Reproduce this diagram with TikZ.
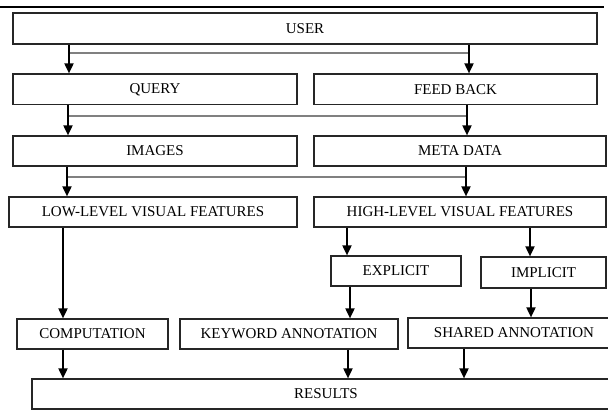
\documentclass[tikz,border=0pt]{standalone}
\usepackage{fontspec}
\setmainfont{Liberation Serif}
\usetikzlibrary{arrows.meta}
\begin{document}
\begin{tikzpicture}[x=1pt,y=-1pt,
  box/.style={draw=black!85,line width=1.2pt,inner sep=0pt,anchor=center,font=\fontsize{15}{16}\selectfont},
  arr/.style={line width=1.8pt,-{Triangle[width=9pt,length=10pt]}},
  hline/.style={draw=black!50,line width=1.6pt}]
\useasboundingbox (0,0) rectangle (608,410);
\clip (0,0) rectangle (608,410);
% top rule
\draw[line width=2pt] (0,6.5) -- (604,6.5);
% boxes
\node[box,minimum width=584pt,minimum height=31pt] (user) at (305,28.5) {USER};
\node[box,minimum width=284pt,minimum height=30.5pt] (query) at (155,89.25) {QUERY};
\node[box,minimum width=283pt,minimum height=30.5pt] (feed) at (455.5,89.25) {FEED BACK};
\node[box,minimum width=284pt,minimum height=30pt] (images) at (155,151) {IMAGES};
\node[box,minimum width=292pt,minimum height=30pt] (meta) at (460,151) {META DATA};
\node[box,minimum width=288pt,minimum height=30pt] (low) at (153,212) {LOW-LEVEL VISUAL FEATURES};
\node[box,minimum width=292pt,minimum height=30pt] (high) at (460,212) {HIGH-LEVEL VISUAL FEATURES};
\node[box,minimum width=130pt,minimum height=30pt] (explicit) at (396,271) {EXPLICIT};
\node[box,minimum width=125pt,minimum height=31pt] (implicit) at (543.5,272.5) {IMPLICIT};
\node[box,minimum width=151pt,minimum height=30pt] (comp) at (92.5,334) {COMPUTATION};
\node[box,minimum width=218pt,minimum height=30pt] (keyword) at (289,334) {KEYWORD ANNOTATION};
\node[box,minimum width=212pt,minimum height=30pt] (shared) at (514,333) {SHARED ANNOTATION};
\node[box,minimum width=588pt,minimum height=30pt] (results) at (326,394) {RESULTS};
% x positions of the connectors
\coordinate (a1) at (69,0);
\coordinate (a2) at (469,0);
\coordinate (a3) at (68,0);
\coordinate (a4) at (467,0);
\coordinate (a5) at (67,0);
\coordinate (a6) at (466,0);
\coordinate (a7) at (63,0);
\coordinate (a8) at (347,0);
\coordinate (a9) at (530,0);
\coordinate (a10) at (350,0);
\coordinate (a11) at (531,0);
\coordinate (a12) at (348,0);
\coordinate (a13) at (464,0);
% y positions of the grey cross lines
\coordinate (h1) at (0,52.7);
\coordinate (h2) at (0,116);
\coordinate (h3) at (0,177);
% grey cross lines
\draw[hline] (a1 |- h1) -- (a2 |- h1);
\draw[hline] (a3 |- h2) -- (a4 |- h2);
\draw[hline] (a5 |- h3) -- (a6 |- h3);
% arrows
\draw[arr] (user.south -| a1) -- (query.north -| a1);
\draw[arr] (user.south -| a2) -- (feed.north -| a2);
\draw[arr] (query.south -| a3) -- (images.north -| a3);
\draw[arr] (feed.south -| a4) -- (meta.north -| a4);
\draw[arr] (images.south -| a5) -- (low.north -| a5);
\draw[arr] (meta.south -| a6) -- (high.north -| a6);
\draw[arr] (low.south -| a7) -- (comp.north -| a7);
\draw[arr] (high.south -| a8) -- (explicit.north -| a8);
\draw[arr] (high.south -| a9) -- (implicit.north -| a9);
\draw[arr] (explicit.south -| a10) -- (keyword.north -| a10);
\draw[arr] (implicit.south -| a11) -- (shared.north -| a11);
\draw[arr] (comp.south -| a7) -- (results.north -| a7);
\draw[arr] (keyword.south -| a12) -- (results.north -| a12);
\draw[arr] (shared.south -| a13) -- (results.north -| a13);
\end{tikzpicture}
\end{document}
